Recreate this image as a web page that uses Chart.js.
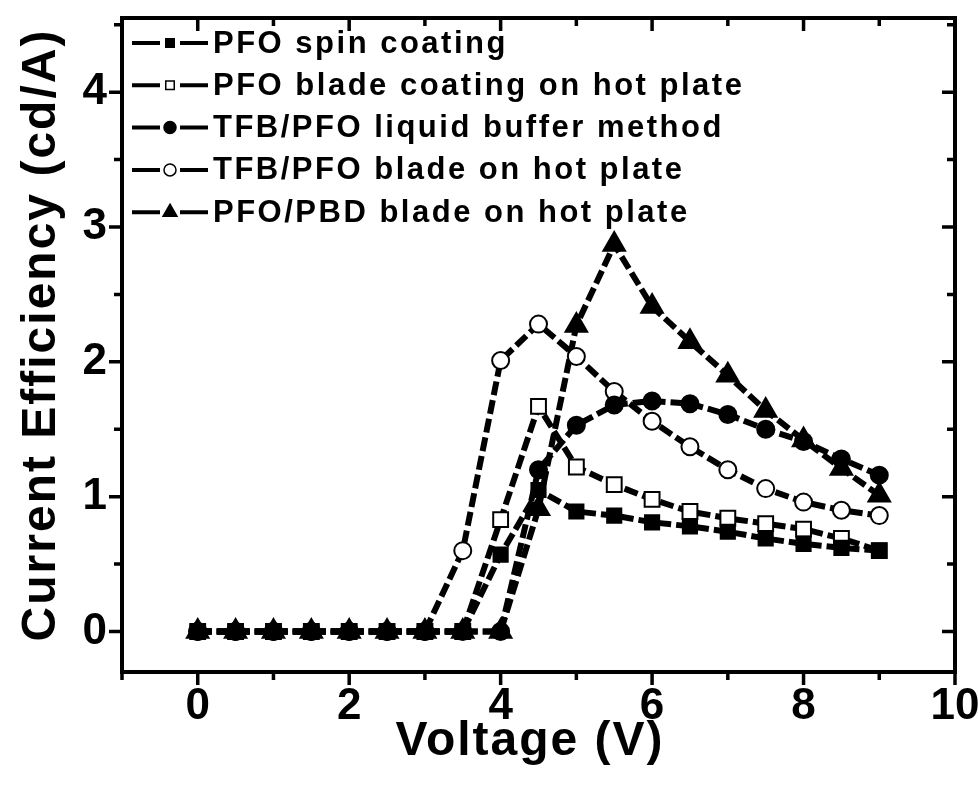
<!DOCTYPE html>
<html>
<head>
<meta charset="utf-8">
<script src="https://cdn.jsdelivr.net/npm/chart.js@4.4.1/dist/chart.umd.min.js"></script>
<style>
  html, body { margin: 0; padding: 0; background: #fff; }
</style>
</head>
<body>
<canvas id="chart" width="978" height="800"></canvas>
<script>
// voltage steps (V)
const voltage = [0, 0.5, 1, 1.5, 2, 2.5, 3, 3.5, 4, 4.5, 5, 5.5, 6, 6.5, 7, 7.5, 8, 8.5, 9];

// current efficiency (cd/A)
const pfoSpin     = [0, 0, 0, 0, 0, 0, 0, 0, 0.57, 1.05, 0.89, 0.86, 0.81, 0.78, 0.74, 0.69, 0.65, 0.62, 0.60];
const pfoBlade    = [0, 0, 0, 0, 0, 0, 0, 0, 0.83, 1.67, 1.22, 1.09, 0.98, 0.89, 0.84, 0.80, 0.76, 0.69, 0.60];
const tfbLiquid   = [0, 0, 0, 0, 0, 0, 0, 0, 0, 1.20, 1.53, 1.68, 1.71, 1.69, 1.61, 1.50, 1.41, 1.28, 1.16];
const tfbBlade    = [0, 0, 0, 0, 0, 0, 0, 0.60, 2.01, 2.28, 2.04, 1.78, 1.56, 1.37, 1.20, 1.06, 0.96, 0.90, 0.86];
const pbdBlade    = [0, 0, 0, 0, 0, 0, 0, 0, 0, 0.91, 2.27, 2.87, 2.41, 2.15, 1.90, 1.64, 1.42, 1.21, 1.01];

const seriesNames = [
  "PFO spin coating",
  "PFO blade coating on hot plate",
  "TFB/PFO liquid buffer method",
  "TFB/PFO blade on hot plate",
  "PFO/PBD blade on hot plate"
];

const xTicks = [0, 2, 4, 6, 8, 10];
const yTicks = [0, 1, 2, 3, 4];

const FONT = '"Liberation Sans", Arial, sans-serif';

function pts(ys) {
  return voltage.map((v, i) => ({ x: v, y: ys[i] }));
}

function series(label, ys, style, radius, fill) {
  return {
    label,
    data: pts(ys),
    showLine: true,
    borderColor: "#000",
    borderWidth: 6,
    borderDash: [14, 5],
    pointStyle: style,
    pointRadius: radius,
    pointBackgroundColor: fill,
    pointBorderColor: "#000",
    pointBorderWidth: 2,
    tension: 0
  };
}

// frame, tick marks, axis titles and the in-plot legend
const decorations = {
  id: "decorations",
  afterDraw(chart) {
    const { ctx, chartArea: a, scales: { x, y } } = chart;
    ctx.save();
    ctx.strokeStyle = "#000";
    ctx.lineWidth = 4;
    ctx.strokeRect(a.left, a.top, a.right - a.left, a.bottom - a.top);

    ctx.lineWidth = 3.5;
    ctx.beginPath();
    for (let v = -1; v <= 10; v++) {
      const px = x.getPixelForValue(v);
      const len = v % 2 === 0 ? 13 : 8;
      ctx.moveTo(px, a.bottom);
      ctx.lineTo(px, a.bottom + len);
      ctx.moveTo(px, a.top);
      ctx.lineTo(px, a.top + len);
    }
    for (let v = 0; v <= 4.5; v += 0.5) {
      const py = y.getPixelForValue(v);
      const len = Number.isInteger(v) ? 13 : 8;
      ctx.moveTo(a.left - len, py);
      ctx.lineTo(a.left, py);
      ctx.moveTo(a.right - len, py);
      ctx.lineTo(a.right, py);
    }
    ctx.stroke();

    // axis titles
    ctx.fillStyle = "#000";
    ctx.font = "bold 48px " + FONT;
    ctx.textAlign = "center";
    ctx.textBaseline = "middle";
    ctx.letterSpacing = "2px";
    ctx.fillText("Voltage (V)", 530, 742);
    ctx.save();
    ctx.translate(42, 335);
    ctx.rotate(-Math.PI / 2);
    ctx.fillText("Current Efficiency (cd/A)", 0, 0);
    ctx.restore();

    // legend
    ctx.font = "bold 31px " + FONT;
    ctx.letterSpacing = "2.5px";
    ctx.textAlign = "left";
    chart.data.datasets.forEach((ds, i) => {
      const cy = 43 + i * 42.3;
      ctx.lineWidth = 4;
      ctx.setLineDash([]);
      ctx.beginPath();
      ctx.moveTo(132, cy);
      ctx.lineTo(160, cy);
      ctx.moveTo(180, cy);
      ctx.lineTo(208, cy);
      ctx.stroke();
      ctx.fillStyle = ds.pointBackgroundColor;
      ctx.lineWidth = 1.5;
      Chart.helpers.drawPoint(ctx, {
        pointStyle: ds.pointStyle,
        radius: ds.pointStyle === "triangle" ? 8 : 6,
        rotation: 0,
        borderWidth: 1.5
      }, 170, cy);
      ctx.fillStyle = "#000";
      ctx.fillText(ds.label, 213, cy + 1);
    });
    ctx.restore();
  }
};

new Chart(document.getElementById("chart"), {
  type: "scatter",
  data: {
    datasets: [
      series(seriesNames[0], pfoSpin, "rect", 10, "#000"),
      series(seriesNames[1], pfoBlade, "rect", 10.5, "#fff"),
      series(seriesNames[2], tfbLiquid, "circle", 8.5, "#000"),
      series(seriesNames[3], tfbBlade, "circle", 8.5, "#fff"),
      series(seriesNames[4], pbdBlade, "triangle", 12.5, "#000")
    ]
  },
  options: {
    responsive: false,
    animation: false,
    layout: { padding: { top: 18, right: 23, left: 0, bottom: 0 } },
    plugins: {
      legend: { display: false },
      tooltip: { enabled: false }
    },
    scales: {
      x: {
        type: "linear",
        min: -1,
        max: 10,
        afterBuildTicks: s => { s.ticks = xTicks.map(v => ({ value: v })); },
        afterFit: s => { s.height = 128; s.paddingLeft = 0; s.paddingRight = 0; },
        grid: { display: false, drawTicks: false },
        border: { display: false },
        ticks: {
          padding: 8,
          color: "#000",
          font: { family: FONT, size: 44, weight: "bold" }
        }
      },
      y: {
        type: "linear",
        min: -0.3,
        max: 4.55,
        afterBuildTicks: s => { s.ticks = yTicks.map(v => ({ value: v })); },
        afterFit: s => { s.width = 122; s.paddingTop = 0; s.paddingBottom = 0; },
        grid: { display: false, drawTicks: false },
        border: { display: false },
        ticks: {
          padding: 15,
          color: "#000",
          font: { family: FONT, size: 44, weight: "bold" }
        }
      }
    }
  },
  plugins: [decorations]
});
</script>
</body>
</html>
